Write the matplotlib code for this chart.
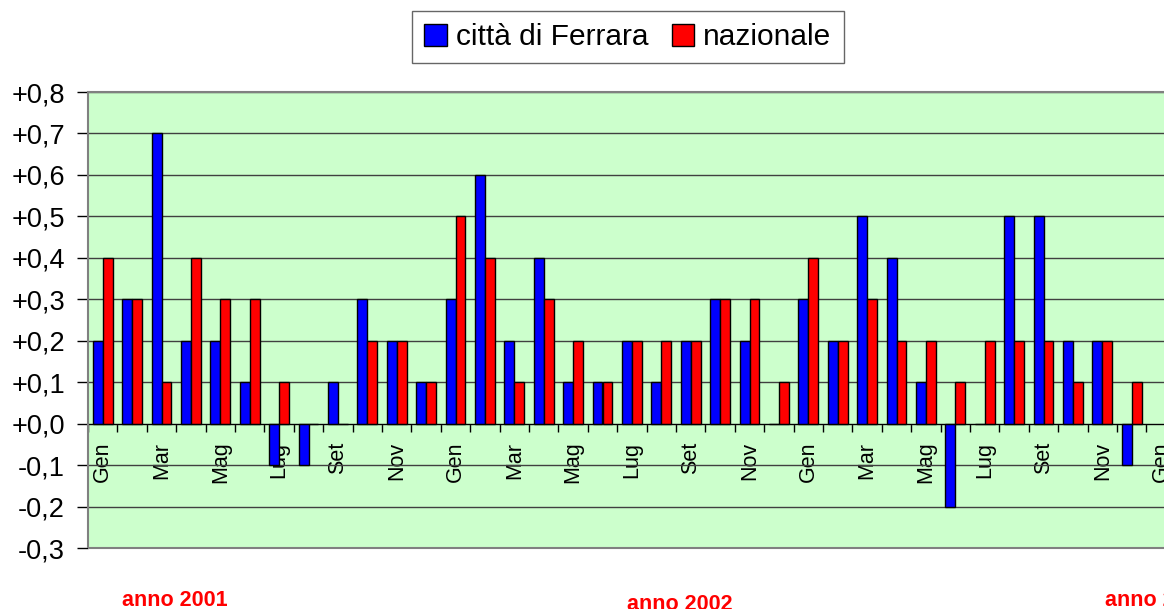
"""Variazioni mensili dei prezzi: città di Ferrara vs nazionale (2001-2003)."""

import matplotlib.pyplot as plt
import numpy as np
from matplotlib.patches import Rectangle
from matplotlib.ticker import FixedLocator, FuncFormatter

plt.rcParams["font.family"] = ["Liberation Sans", "DejaVu Sans"]

# Data
month_names = ["Gen", "Feb", "Mar", "Apr", "Mag", "Giu", "Lug", "Ago", "Set", "Ott", "Nov", "Dic"]
months = month_names * 3 + ["Gen"]
ferrara = [0.2, 0.3, 0.7, 0.2, 0.2, 0.1, -0.1, -0.1, 0.1, 0.3, 0.2, 0.1,
           0.3, 0.6, 0.2, 0.4, 0.1, 0.1, 0.2, 0.1, 0.2, 0.3, 0.2, 0.0,
           0.3, 0.2, 0.5, 0.4, 0.1, -0.2, 0.0, 0.5, 0.5, 0.2, 0.2, -0.1,
           np.nan]
nazionale = [0.4, 0.3, 0.1, 0.4, 0.3, 0.3, 0.1, 0.0, 0.0, 0.2, 0.2, 0.1,
             0.5, 0.4, 0.1, 0.3, 0.2, 0.1, 0.2, 0.2, 0.2, 0.3, 0.3, 0.1,
             0.4, 0.2, 0.3, 0.2, 0.2, 0.1, 0.2, 0.2, 0.2, 0.1, 0.2, 0.1,
             np.nan]
year_labels = ["anno 2001", "anno 2002", "anno 2003"]

W, H = 1164, 609
fig = plt.figure(figsize=(W / 100, H / 100), dpi=100)
ax = fig.add_axes([88 / W, 61 / H, 37 * 29.4 / W, 456 / H])
ax.set_facecolor("#CCFFCC")

x = np.arange(len(months))
bw = 0.34
b1 = ax.bar(x - bw / 2, ferrara, bw, color="#0000FF", edgecolor="black", linewidth=1, label="città di Ferrara", zorder=3)
b2 = ax.bar(x + bw / 2, nazionale, bw, color="#FF0000", edgecolor="black", linewidth=1, label="nazionale", zorder=3)

ax.set_xlim(-0.5, len(months) - 0.5)
ax.set_ylim(-0.3, 0.8)
ax.set_yticks(np.round(np.arange(-0.3, 0.81, 0.1), 1))
ax.yaxis.set_major_formatter(FuncFormatter(lambda v, p: ("+" if v >= -1e-9 else "-") + f"{abs(v):.1f}".replace(".", ",")))
ax.tick_params(axis="y", labelsize=19.5, length=8, width=1, pad=8.5, color="black")
ax.yaxis.grid(True, color="#404040", linewidth=1, zorder=1)
ax.set_axisbelow(True)

# x axis drawn on the zero line
ax.spines["bottom"].set_position(("data", 0))
ax.spines["bottom"].set_color("black")
ax.spines["bottom"].set_zorder(4)
ax.set_xticks(x[::2])
ax.set_xticklabels(months[::2], rotation=90, fontsize=15.5, va="top", ha="center")
ax.xaxis.set_minor_locator(FixedLocator(np.arange(-0.5, len(months), 1)))
ax.tick_params(axis="x", which="major", length=0, pad=13)
ax.tick_params(axis="x", which="minor", length=6, width=1, direction="out", color="black")
for s in ["top", "right", "left"]:
    ax.spines[s].set_visible(False)

# plot area border
ax.add_patch(Rectangle((0, 0), 1, 1, transform=ax.transAxes, fill=False, edgecolor="#808080", linewidth=1.5, zorder=5, clip_on=False))

# legend
leg = fig.legend(handles=[b1, b2], loc="center", bbox_to_anchor=(628 / W, 1 - 37 / H), ncol=2, fontsize=21.5,
                 frameon=True, fancybox=False, edgecolor="#404040", handlelength=0.75, handleheight=0.75,
                 handletextpad=0.3, columnspacing=0.8, borderpad=0.4)
leg.get_frame().set_linewidth(1)

# year labels
fig.text(175 / W, 9 / H, year_labels[0], color="red", fontsize=15.5, weight="bold", ha="center", va="center")
fig.text(680 / W, 5 / H, year_labels[1], color="red", fontsize=15.5, weight="bold", ha="center", va="center")
fig.text(1105 / W, 9 / H, year_labels[2], color="red", fontsize=15.5, weight="bold", ha="left", va="center")

plt.savefig("out.png", dpi=100)
